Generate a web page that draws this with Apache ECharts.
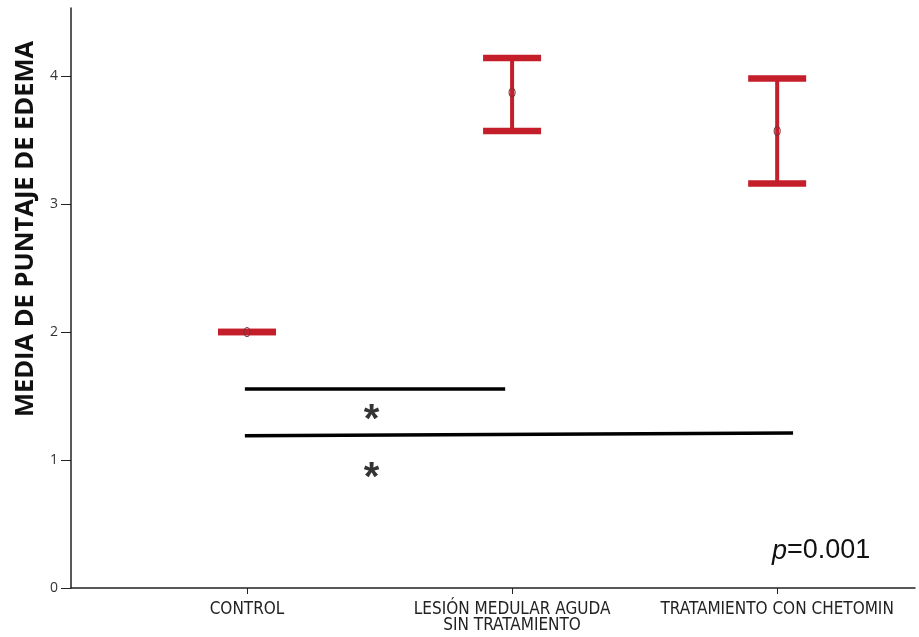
<!DOCTYPE html>
<html>
<head>
<meta charset="utf-8">
<script src="https://cdn.jsdelivr.net/npm/echarts@6/dist/echarts.min.js"></script>
<style>html,body{margin:0;padding:0;background:#fff}#c{width:919px;height:637px}</style>
</head>
<body>
<div id="c"></div>
<script>
// ---- data ----
const categories = ['CONTROL', 'LESIÓN MEDULAR AGUDA\nSIN TRATAMIENTO', 'TRATAMIENTO CON CHETOMIN'];
const groupPos = [1, 2, 3];
const means = [2.00, 3.87, 3.57];
const lower = [2.00, 3.57, 3.16];
const upper = [2.00, 4.14, 3.98];
const yTicks = [0, 1, 2, 3, 4];
// significance brackets: [x1, y1, x2, y2]
const sigLines = [[0.992, 1.555, 1.974, 1.555], [0.992, 1.19, 3.06, 1.21]];
const stars = [[1.47, 1.367], [1.47, 0.914]];
const pText = 'p=0.001';
const yTitle = 'MEDIA DE PUNTAJE DE EDEMA';

const chart = echarts.init(document.getElementById('c'), null, {renderer: 'canvas'});
const red = '#c41e2a';

const ebData = groupPos.map((x, i) => [x, means[i], lower[i], upper[i]]);

chart.setOption({
  animation: false,
  backgroundColor: '#fff',
  grid: {left: 71, right: 4, top: 8, bottom: 49},
  xAxis: {
    type: 'value', min: 0.336, max: 3.52,
    splitLine: {show: false},
    axisLine: {show: true, lineStyle: {color: '#222', width: 1.5}},
    axisTick: {show: true, customValues: groupPos, length: 6, inside: false, lineStyle: {color: '#222'}},
    axisLabel: {
      customValues: groupPos, margin: 14,
      formatter: v => categories[Math.round(v) - 1] || '',
      fontFamily: 'DejaVu Sans Condensed', fontSize: 17, color: '#222', lineHeight: 16
    }
  },
  yAxis: {
    type: 'value', min: 0, max: 4.53,
    splitLine: {show: false},
    axisLine: {show: true, lineStyle: {color: '#222', width: 1.5}},
    axisTick: {show: true, customValues: yTicks, length: 10, lineStyle: {color: '#222'}},
    axisLabel: {customValues: yTicks, margin: 13, fontFamily: 'Open Sans', fontSize: 14, color: '#333'}
  },
  series: [
    {
      type: 'custom',
      data: ebData,
      renderItem: (params, api) => {
        const x = api.value(0);
        const m = api.coord([x, api.value(1)]);
        const lo = api.coord([x, api.value(2)]);
        const hi = api.coord([x, api.value(3)]);
        const hw = 29;
        return {
          type: 'group',
          children: [
            {type: 'line', shape: {x1: lo[0], y1: lo[1], x2: hi[0], y2: hi[1]}, style: {stroke: red, lineWidth: 4}},
            {type: 'line', shape: {x1: hi[0] - hw, y1: hi[1], x2: hi[0] + hw, y2: hi[1]}, style: {stroke: red, lineWidth: 6.5}},
            {type: 'line', shape: {x1: lo[0] - hw, y1: lo[1], x2: lo[0] + hw, y2: lo[1]}, style: {stroke: red, lineWidth: 6.5}},
            {type: 'ellipse', shape: {cx: m[0], cy: m[1], rx: 3, ry: 4.5}, style: {fill: 'rgba(0,0,0,0)', stroke: '#7a3238', lineWidth: 1.1}}
          ]
        };
      }
    },
    {
      type: 'custom',
      data: sigLines,
      renderItem: (params, api) => {
        const a = api.coord([api.value(0), api.value(1)]);
        const b = api.coord([api.value(2), api.value(3)]);
        return {type: 'line', shape: {x1: a[0], y1: a[1], x2: b[0], y2: b[1]}, style: {stroke: '#000', lineWidth: 3.5}};
      }
    },
    {
      type: 'scatter',
      data: stars,
      symbolSize: 0,
      label: {show: true, position: 'inside', formatter: '*', fontFamily: 'Liberation Sans', fontWeight: 'bold', fontSize: 40, color: '#000', offset: [0, 8]}
    }
  ],
  graphic: [
    {
      type: 'text', x: 26, y: 229, rotation: Math.PI / 2,
      style: {text: yTitle, fontFamily: 'Open Sans', fontWeight: 'bold', fontSize: 25.5, fill: '#111', align: 'center', verticalAlign: 'middle'}
    },
    {
      type: 'text', x: 772, y: 551,
      style: {
        text: '{i|p}{n|=0.001}', verticalAlign: 'middle', align: 'left',
        rich: {
          i: {fontFamily: 'Liberation Sans', fontStyle: 'italic', fontSize: 27, fill: '#111'},
          n: {fontFamily: 'Liberation Sans', fontSize: 27, fill: '#111'}
        }
      }
    }
  ]
});
</script>
</body>
</html>
